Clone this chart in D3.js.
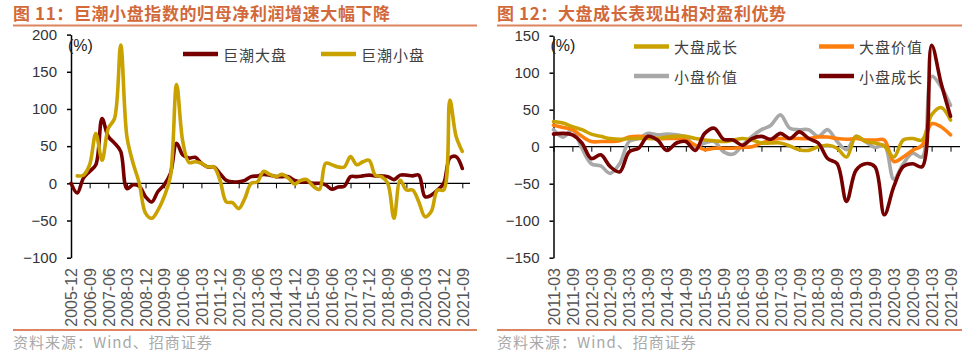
<!DOCTYPE html>
<html><head><meta charset="utf-8">
<script src="https://cdn.jsdelivr.net/npm/d3@7"></script>
<style>
body{margin:0;background:#fff;}
svg{display:block;}
</style></head>
<body><svg id="c" width="964" height="355"></svg>
<script>
// ---------- Data ----------
const leftCategories = ["2005-12","2006-03","2006-06","2006-09","2006-12","2007-03","2007-06","2007-09","2007-12","2008-03","2008-06","2008-09","2008-12","2009-03","2009-06","2009-09","2009-12","2010-03","2010-06","2010-09","2010-12","2011-03","2011-06","2011-09","2011-12","2012-03","2012-06","2012-09","2012-12","2013-03","2013-06","2013-09","2013-12","2014-03","2014-06","2014-09","2014-12","2015-03","2015-06","2015-09","2015-12","2016-03","2016-06","2016-09","2016-12","2017-03","2017-06","2017-09","2017-12","2018-03","2018-06","2018-09","2018-12","2019-03","2019-06","2019-09","2019-12","2020-03","2020-06","2020-09","2020-12","2021-03","2021-06","2021-09"];
const leftTickLabels = ["2005-12","2006-09","2007-06","2008-03","2008-12","2009-09","2010-06","2011-03","2011-12","2012-09","2013-06","2014-03","2014-12","2015-09","2016-06","2017-03","2017-12","2018-09","2019-06","2020-03","2020-12","2021-09"];
const leftYTicks = [200,150,100,50,0,-50,-100];
const juchaoLarge = [0,-13,7,16,25,87,63,54,43,-7,-2,-4,-18,-25,-11,-2,13,54,38,34,35,27,22,22,13,4,2,2,4,9,10,12,11,9,9,9,4,2,2,0,0,-2,-8,-5,-4,9,9,10,11,10,10,9,5,11,11,10,11,-18,-16,-9,0,34,36,20];
const juchaoSmall = [null,10,11,25,67,31,74,87,186,63,27,0,-40,-47,-36,-18,9,133,56,28,29,27,22,22,4,-25,-26,-34,-20,0,2,16,12,9,12,7,-1,4,5,-4,-8,27,25,22,22,36,25,29,31,11,9,0,-47,4,-9,-9,-25,-45,-38,-9,-9,112,63,43];

const rightCategories = ["2011-03","2011-06","2011-09","2011-12","2012-03","2012-06","2012-09","2012-12","2013-03","2013-06","2013-09","2013-12","2014-03","2014-06","2014-09","2014-12","2015-03","2015-06","2015-09","2015-12","2016-03","2016-06","2016-09","2016-12","2017-03","2017-06","2017-09","2017-12","2018-03","2018-06","2018-09","2018-12","2019-03","2019-06","2019-09","2019-12","2020-03","2020-06","2020-09","2020-12","2021-03","2021-06","2021-09"];
const rightTickLabels = ["2011-03","2011-09","2012-03","2012-09","2013-03","2013-09","2014-03","2014-09","2015-03","2015-09","2016-03","2016-09","2017-03","2017-09","2018-03","2018-09","2019-03","2019-09","2020-03","2020-09","2021-03","2021-09"];
const rightYTicks = [150,100,50,0,-50,-100,-150];
const largeGrowth = [34,32,27,23,17,14,11,10,11,11,11,11,13,14,14,11,9,8,7,9,11,9,5,5,5,1,-4,-5,0,2,-2,-14,14,7,5,1,-14,9,11,9,43,53,36];
const largeValue  = [29,26,23,14,7,7,7,8,13,14,13,11,11,11,9,2,-4,-2,-2,-2,-1,0,5,9,11,11,11,11,13,13,11,10,11,9,9,9,-20,-14,-5,2,31,27,16];
const smallValue  = [23,13,23,-2,-23,-26,-36,-23,7,11,18,16,17,16,13,0,5,7,-7,-10,2,14,23,29,43,25,23,23,14,23,7,-4,14,7,-1,2,-44,-23,-9,-14,95,81,56];
const smallGrowth = [17,18,16,5,-16,-11,-27,-34,-7,-2,14,9,-5,5,7,-5,18,25,10,9,2,11,14,10,18,11,20,11,5,-16,-23,-74,-32,-23,-27,-92,-54,-27,-23,-27,137,86,41];

const C = {maroon:"#760000", gold:"#C9A200", orange:"#FF7F0E", gray:"#A8A8A8"};
const titleColor = "#D2693A", ruleColor = "#DE8460";

const svg = d3.select("#c");
svg.append("rect").attr("width",964).attr("height",355).attr("fill","#fff");

function panel(o){
  const g = svg.append("g");
  // title
  g.append("text").attr("x",o.x0).attr("y",20)
    .attr("font-family","'Noto Sans CJK SC', sans-serif").attr("font-weight","bold")
    .attr("font-size",17).attr("letter-spacing",0.6).attr("fill",titleColor).text(o.title);
  g.append("line").attr("x1",o.x0).attr("x2",o.x1).attr("y1",25.5).attr("y2",25.5)
    .attr("stroke",ruleColor).attr("stroke-width",2);
  g.append("line").attr("x1",o.x0).attr("x2",o.x1).attr("y1",330).attr("y2",330)
    .attr("stroke",ruleColor).attr("stroke-width",2);
  g.append("text").attr("x",o.x0).attr("y",348)
    .attr("font-family","'Noto Sans CJK SC', sans-serif").attr("font-size",15)
    .attr("letter-spacing",1).attr("fill","#A8A8A8").text("资料来源：Wind、招商证券");

  const x = d3.scalePoint().domain(o.cats).range(o.xr);
  const y = d3.scaleLinear().domain(o.yd).range([257.7, o.yTop]);

  // y axis
  const ya = g.append("g").attr("transform",`translate(${o.xr[0]},0)`)
    .call(d3.axisLeft(y).tickValues(o.yTicks).tickSize(4).tickSizeOuter(0).tickPadding(10));
  ya.select(".domain").attr("stroke","#000").attr("stroke-width",1.5);
  ya.selectAll(".tick line").attr("stroke","#000").attr("stroke-width",1.5);
  ya.selectAll(".tick text").attr("font-family","'Liberation Sans', Arial, sans-serif")
    .attr("font-size",15).attr("fill","#333");

  // x axis at zero
  const xa = g.append("g").attr("transform",`translate(0,${y(0)})`)
    .call(d3.axisBottom(x).tickValues(o.xTicks).tickSize(5).tickSizeOuter(0).tickFormat(""));
  xa.select(".domain").attr("d",`M${o.xr[0]},0H${o.axisEnd}`).attr("stroke","#000").attr("stroke-width",1.2);
  xa.selectAll(".tick line").attr("stroke","#000").attr("stroke-width",1);

  // x labels rotated
  g.append("g").selectAll("text").data(o.xTicks).join("text")
    .attr("transform",d=>`translate(${x(d)+0.5},268) rotate(-90)`)
    .attr("text-anchor","end").attr("dy","0.36em")
    .attr("font-family","'Liberation Sans', Arial, sans-serif").attr("font-size",16)
    .attr("fill","#555").text(d=>d);

  // (%)
  g.append("text").attr("x",o.xr[0]-3).attr("y",51)
    .attr("font-family","'Liberation Sans', Arial, sans-serif").attr("font-size",16)
    .attr("fill","#222").text("(%)");

  // lines
  const line = d3.line().defined(d=>d.v!==null).x(d=>x(d.c)).y(d=>y(d.v)).curve(d3.curveCatmullRom.alpha(0.5));
  o.series.forEach(s=>{
    const pts = o.cats.map((c,i)=>({c, v:s.values[i]}));
    g.append("path").datum(pts).attr("d",line).attr("fill","none")
      .attr("stroke",s.color).attr("stroke-width",3.6).attr("stroke-linejoin","round").attr("stroke-linecap","round");
  });
  // legend
  o.series.forEach(s=>{
    g.append("line").attr("x1",s.lx).attr("x2",s.lx+35).attr("y1",s.ly).attr("y2",s.ly)
      .attr("stroke",s.color).attr("stroke-width",4.5);
    g.append("text").attr("x",s.lx+40).attr("y",s.ly).attr("dominant-baseline","central")
      .attr("font-family","'Noto Sans CJK SC', sans-serif").attr("font-size",15)
      .attr("letter-spacing",1).attr("fill","#404040").text(s.name);
  });
}

panel({
  title:"图 11：巨潮小盘指数的归母净利润增速大幅下降", x0:13, x1:477,
  cats:leftCategories, xr:[71,462.3], axisEnd:470, yd:[-100,200], yTop:34.6,
  yTicks:leftYTicks, xTicks:leftTickLabels,
  series:[
    {name:"巨潮大盘", values:juchaoLarge, color:C.maroon, lx:183, ly:54},
    {name:"巨潮小盘", values:juchaoSmall, color:C.gold, lx:321, ly:54}
  ]
});
panel({
  title:"图 12：大盘成长表现出相对盈利优势", x0:497, x1:962,
  cats:rightCategories, xr:[553.5,950.5], axisEnd:960, yd:[-150,150], yTop:35.7,
  yTicks:rightYTicks, xTicks:rightTickLabels,
  series:[
    {name:"小盘价值", values:smallValue, color:C.gray, lx:634, ly:76},
    {name:"大盘价值", values:largeValue, color:C.orange, lx:819, ly:46.5},
    {name:"大盘成长", values:largeGrowth, color:C.gold, lx:634, ly:46.5},
    {name:"小盘成长", values:smallGrowth, color:C.maroon, lx:819, ly:76}
  ]
});
</script></body></html>
